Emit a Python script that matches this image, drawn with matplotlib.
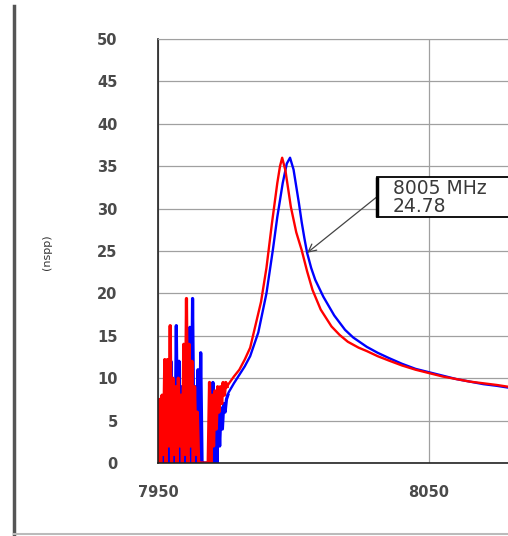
import numpy as np
import matplotlib
matplotlib.use('Agg')
import matplotlib.pyplot as plt
from matplotlib.lines import Line2D
from matplotlib.patches import Rectangle

# noisy low-frequency part (MHz, nspp)
red_noise_f = [7950, 7950.5, 7951, 7951.5, 7952, 7952.5, 7953, 7953.5, 7954, 7954.5,
               7955, 7955.5, 7956, 7956.5, 7957, 7957.5, 7958, 7958.5, 7959, 7959.5,
               7960, 7960.5, 7961, 7961.5, 7962, 7962.5, 7963, 7963.5, 7964, 7964.5,
               7965, 7965.5,
               7968.5, 7969, 7969.5, 7970, 7970.5, 7971, 7971.5, 7972, 7972.5, 7973,
               7973.5, 7974, 7974.5, 7975, 7975.5]
red_noise_v = [0, 7.5, 0, 8, 1, 12.2, 0, 12.2, 2, 16.2,
               0, 10, 1, 9, 0, 10, 2, 8, 0, 14,
               1, 19.4, 0, 14, 2, 12, 0, 9, 1, 6,
               0, 0,
               0, 9.5, 0, 8, 2, 8.5, 4, 9, 6, 9,
               7, 9.5, 8, 9.5, 9]
blue_noise_f = [7950.25, 7950.75, 7951.25, 7951.75, 7952.25, 7952.75, 7953.25, 7953.75,
                7954.25, 7954.75, 7955.25, 7955.75, 7956.25, 7956.75, 7957.25, 7957.75,
                7958.25, 7958.75, 7959.25, 7959.75, 7960.25, 7960.75, 7961.25, 7961.75,
                7962.25, 7962.75, 7963.25, 7963.75, 7964.25, 7964.75, 7965.25, 7965.75,
                7966.25, 7966.75,
                7970, 7970.25, 7970.75, 7971.25, 7971.75, 7972.25, 7972.75, 7973.25,
                7973.75, 7974.25, 7974.75, 7975.25, 7975.75]
blue_noise_v = [0, 5, 0, 7, 0, 9, 1, 11,
                0, 12, 2, 9, 0, 16.2, 1, 12,
                0, 9, 2, 11, 0, 14, 1, 16,
                0, 19.4, 2, 9, 0, 11, 0, 13,
                0, 0,
                0, 9.5, 0, 7.5, 0, 6.5, 2, 6.5,
                4, 7, 6, 7.5, 8]

# resonance curves
red_f = [7975.5, 7976, 7978, 7980, 7982, 7984, 7986, 7988, 7990, 7992, 7994,
         7995, 7995.8, 7997, 7999, 8001, 8003, 8005, 8007, 8010, 8014,
         8017, 8020, 8024, 8027, 8031, 8035, 8040, 8045, 8050, 8055,
         8060, 8065, 8070, 8075, 8079, 8085]
red_v = [9, 9.3, 10.2, 11, 12.2, 13.6, 16.3, 19, 23, 28.2, 33,
         35, 36, 34.5, 30.2, 27.2, 25.1, 22.6, 20.4, 18.1, 16.1,
         15.1, 14.3, 13.6, 13.2, 12.6, 12.1, 11.5, 11.0, 10.6, 10.2,
         9.9, 9.6, 9.4, 9.2, 9.0, 8.7]
blue_f = [7975.75, 7976, 7978, 7980, 7982, 7984, 7987, 7990, 7992.4, 7994, 7996,
          7997.5, 7998.7, 8000, 8002, 8003, 8004, 8005, 8006.5, 8008, 8011,
          8015, 8019, 8022, 8027, 8031, 8035, 8040, 8045, 8050, 8055,
          8060, 8065, 8070, 8075, 8079, 8085]
blue_v = [8, 8.3, 9.4, 10.4, 11.4, 12.6, 15.4, 20, 25.2, 29, 33,
          35.3, 36, 34.6, 30.6, 28.4, 26.5, 24.78, 23.0, 21.6, 19.6,
          17.4, 15.7, 14.8, 13.7, 13.0, 12.4, 11.7, 11.1, 10.7, 10.3,
          9.9, 9.6, 9.3, 9.1, 8.9, 8.7]

marker_f = 8005
marker_v = 24.78

y_ticks = [0, 5, 10, 15, 20, 25, 30, 35, 40, 45, 50]
x_ticks = [7950, 8050]

fig = plt.figure(figsize=(5.08, 5.36), dpi=100)
ax = fig.add_axes([158 / 508, 73 / 536, 366 / 508, 424 / 536])

ax.plot(blue_noise_f, blue_noise_v, color='#0000ff', lw=2.3)
ax.plot(red_noise_f, red_noise_v, color='#ff0000', lw=2.3)
ax.plot(blue_f, blue_v, color='#0000ff', lw=1.7)
ax.plot(red_f, red_v, color='#ff0000', lw=1.7)

ax.set_xlim(7950, 8085)
ax.set_ylim(0, 50)
ax.set_yticks(y_ticks)
ax.set_xticks(x_ticks)
ax.set_xticklabels([str(t) for t in x_ticks])
ax.tick_params(length=0, labelsize=10.5, labelcolor='#4a4a4a')
ax.tick_params(axis='y', pad=29)
ax.tick_params(axis='x', pad=16)
for lab in ax.get_xticklabels() + ax.get_yticklabels():
    lab.set_fontfamily('DejaVu Sans')
    lab.set_fontweight('bold')

ax.grid(True, color='#a0a0a0', lw=0.9)
ax.set_axisbelow(True)
ax.spines['top'].set_color('#a0a0a0')
ax.spines['left'].set_color('#222222')
ax.spines['bottom'].set_color('#222222')
ax.spines['left'].set_linewidth(1.2)
ax.spines['bottom'].set_linewidth(1.2)

# marker label box (runs off the right edge)
box = Rectangle((8030.8, 28.96), 60, 4.73, fc='white', ec='black', lw=1.3,
                clip_on=False, zorder=5)
ax.add_patch(box)
ax.plot([8030.8, 8030.8], [28.96, 33.69], color='black', lw=2.5,
        solid_capstyle='butt', zorder=6, clip_on=False)
ax.text(8036.7, 31.3, '%d MHz\n%.2f' % (marker_f, marker_v), ha='left', va='center',
        fontsize=13.5, fontfamily='DejaVu Sans', color='#3a3a3a', linespacing=0.95,
        zorder=7, clip_on=False)
ax.annotate('', xy=(marker_f, marker_v), xytext=(8030.8, 31.4),
            arrowprops=dict(arrowstyle='->', color='#444444', lw=0.9,
                            shrinkA=0, shrinkB=0, mutation_scale=14))

fig.text(47 / 508, 1 - 252 / 536, '(nspp)', rotation=90, ha='center', va='center',
         fontsize=8, fontfamily='DejaVu Sans', color='#333333')

# outer chart frame
fig.add_artist(Line2D([14 / 508, 14 / 508], [0, 1 - 6 / 536], color='#555555', lw=2.5))
fig.add_artist(Line2D([14 / 508, 1], [2 / 536, 2 / 536], color='#bbbbbb', lw=1.5))

fig.savefig('out.png', dpi=100)
